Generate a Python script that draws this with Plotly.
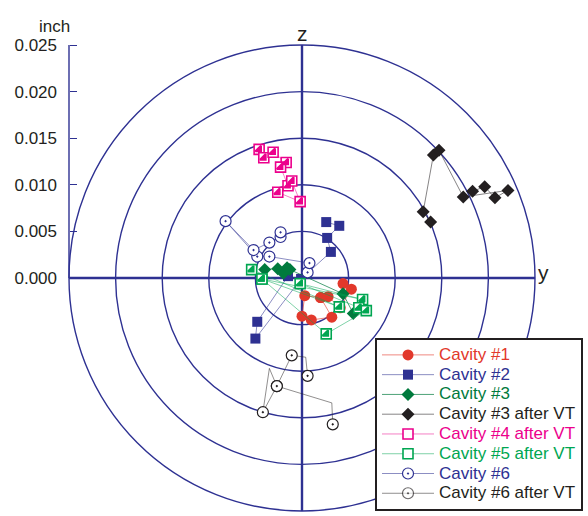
import plotly.graph_objects as go

# ---- data (inch) ----
c1_y = [0.0044, 0.0053, 0.0041, 0.0028, 0.0020, 0.0003, 0.0000, 0.0010, 0.0032, 0.0020]
c1_z = [-0.0006, -0.0012, -0.0032, -0.0020, -0.0021, -0.0019, -0.0041, -0.0045, -0.0042, -0.0021]

c2_y = [0.0026, 0.0040, 0.0027, 0.0031, -0.0001, -0.0050, -0.0048, -0.0015]
c2_z = [0.0060, 0.0056, 0.0043, 0.0028, -0.0001, -0.0065, -0.0047, 0.0002]

c3_y = [-0.0040, -0.0026, -0.0016, -0.0020, -0.0013, 0.0044, 0.0055]
c3_z = [0.0009, 0.0010, 0.0011, 0.0005, 0.0009, -0.0017, -0.0038]

c3vt_y = [0.0138, 0.0130, 0.0141, 0.0147, 0.0173, 0.0221, 0.0207, 0.0196, 0.0183]
c3vt_z = [0.0060, 0.0071, 0.0132, 0.0137, 0.0087, 0.0094, 0.0086, 0.0098, 0.0093]

c4vt_y = [-0.0046, -0.0041, -0.0031, -0.0017, -0.0023, -0.0015, -0.0011, -0.0002, -0.0026]
c4vt_z = [0.0138, 0.0129, 0.0135, 0.0124, 0.0119, 0.0099, 0.0104, 0.0082, 0.0092]

c5vt_y = [-0.0054, 0.0040, -0.0043, 0.0065, -0.0002, 0.0061, 0.0069, 0.0026, -0.0043]
c5vt_z = [0.0009, -0.0031, -0.0001, -0.0023, -0.0006, -0.0032, -0.0035, -0.0060, -0.0001]

c6_y = [0.0006, 0.0008, -0.0035, -0.0048, -0.0082, -0.0052, -0.0035, -0.0023, -0.0023]
c6_z = [0.0006, 0.0016, 0.0023, 0.0023, 0.0061, 0.0030, 0.0038, 0.0044, 0.0049]

c6vt_y = [0.0006, 0.0004, -0.0011, -0.0027, -0.0042, -0.0035, -0.0027, 0.0032, 0.0033]
c6vt_z = [-0.0105, -0.0085, -0.0083, -0.0116, -0.0144, -0.0097, -0.0116, -0.0134, -0.0157]
c6vt_marked = [1, 0, 1, 1, 1, 0, 1, 0, 1]

ring_radii = [0.005, 0.010, 0.015, 0.020, 0.025]
tick_vals = [0.000, 0.005, 0.010, 0.015, 0.020, 0.025]

# ---- styles ----
RED = "#e2382b"
NAVY = "#2e3192"
DKGREEN = "#007a3d"
BLACK = "#231f20"
MAGENTA = "#ec008c"
GREEN = "#00a651"
FONT = "Liberation Sans, Arial, sans-serif"


def rgba(hexc, a):
    h = hexc.lstrip("#")
    r, g, b = int(h[0:2], 16), int(h[2:4], 16), int(h[4:6], 16)
    return f"rgba({r},{g},{b},{a})"


def lbl(text, color):
    return f'<span style="color:{color};font-size:17px">{text}</span>'


SQ = 10                # half-filled square size
TRI = SQ / 1.6         # right-angle triangle whose corner sits on the square's corner

fig = go.Figure()

fig.add_trace(go.Scatter(
    x=c1_y, y=c1_z, mode="lines+markers", name=lbl("Cavity #1", RED),
    line=dict(color=rgba(RED, 0.6), width=1),
    marker=dict(symbol="circle", size=11, color=RED)))

fig.add_trace(go.Scatter(
    x=c2_y, y=c2_z, mode="lines+markers", name=lbl("Cavity #2", NAVY),
    line=dict(color=rgba(NAVY, 0.55), width=1),
    marker=dict(symbol="square", size=10, color=NAVY)))

fig.add_trace(go.Scatter(
    x=c3_y, y=c3_z, mode="lines+markers", name=lbl("Cavity #3", DKGREEN),
    line=dict(color=rgba(DKGREEN, 0.7), width=1),
    marker=dict(symbol="diamond", size=10, color=DKGREEN)))

fig.add_trace(go.Scatter(
    x=c3vt_y, y=c3vt_z, mode="lines+markers", name=lbl("Cavity #3 after VT", BLACK),
    line=dict(color=rgba(BLACK, 0.55), width=1),
    marker=dict(symbol="diamond", size=10, color=BLACK)))

# Cavity #4 after VT: half-filled squares (white square + filled lower-right triangle)
fig.add_trace(go.Scatter(
    x=c4vt_y, y=c4vt_z, mode="lines+markers", name=lbl("Cavity #4 after VT", MAGENTA),
    line=dict(color=rgba(MAGENTA, 0.5), width=1),
    marker=dict(symbol="square", size=SQ, color="white", line=dict(width=1.6, color=MAGENTA))))
fig.add_trace(go.Scatter(
    x=c4vt_y, y=c4vt_z, mode="markers", showlegend=False, hoverinfo="skip",
    marker=dict(symbol="triangle-se", size=TRI, color=MAGENTA, line=dict(width=2, color=MAGENTA))))

# Cavity #5 after VT
fig.add_trace(go.Scatter(
    x=c5vt_y, y=c5vt_z, mode="lines+markers", name=lbl("Cavity #5 after VT", GREEN),
    line=dict(color=rgba(GREEN, 0.5), width=1),
    marker=dict(symbol="square", size=SQ, color="white", line=dict(width=1.6, color=GREEN))))
fig.add_trace(go.Scatter(
    x=c5vt_y, y=c5vt_z, mode="markers", showlegend=False, hoverinfo="skip",
    marker=dict(symbol="triangle-se", size=TRI, color=GREEN, line=dict(width=2, color=GREEN))))

fig.add_trace(go.Scatter(
    x=c6_y, y=c6_z, mode="lines+markers", name=lbl("Cavity #6", NAVY),
    line=dict(color=rgba(NAVY, 0.55), width=1),
    marker=dict(symbol="circle-dot", size=11, color="white", line=dict(width=1.2, color=NAVY))))

fig.add_trace(go.Scatter(
    x=c6vt_y, y=c6vt_z, mode="lines+markers", name=lbl("Cavity #6 after VT", BLACK),
    line=dict(color=rgba(BLACK, 0.5), width=1),
    marker=dict(symbol="circle-dot", size=11, color="white",
                opacity=[1.0 if m else 0.0 for m in c6vt_marked],
                line=dict(width=1.2, color=BLACK))))

# rings and axes
R = ring_radii[-1]
shapes = []
for r in ring_radii:
    shapes.append(dict(type="circle", xref="x", yref="y", x0=-r, x1=r, y0=-r, y1=r,
                       line=dict(color=NAVY, width=1.4), layer="below"))
shapes.append(dict(type="line", xref="x", yref="y", x0=-R, x1=R, y0=0, y1=0,
                   line=dict(color=NAVY, width=2.4), layer="below"))
shapes.append(dict(type="line", xref="x", yref="y", x0=0, x1=0, y0=-R, y1=R,
                   line=dict(color=NAVY, width=2.4), layer="below"))
shapes.append(dict(type="line", xref="x", yref="y", x0=-R, x1=-R, y0=0, y1=R,
                   line=dict(color=NAVY, width=1.4), layer="below"))

W, H = 588, 516
K = 0.025 / 233.0  # inch per pixel
CX, CY = 302, 278  # pixel position of the origin

fig.update_layout(
    width=W, height=H, autosize=False,
    margin=dict(l=0, r=0, t=0, b=0, pad=0),
    paper_bgcolor="white", plot_bgcolor="white",
    shapes=shapes,
    showlegend=True,
    xaxis=dict(range=[-CX * K, (W - CX) * K], visible=False, fixedrange=True),
    yaxis=dict(range=[-(H - CY) * K, CY * K], anchor="free", position=(CX - 233) / W,
               showgrid=False, zeroline=False, showline=False,
               tickvals=tick_vals, tickformat=".3f",
               ticks="inside", ticklen=7, tickwidth=1.4, tickcolor=NAVY,
               ticklabelstandoff=12,
               tickfont=dict(family=FONT, size=17, color=BLACK), automargin=False),
    legend=dict(x=375 / W, y=1 - 511 / H, xanchor="left", yanchor="bottom",
                bgcolor="white", bordercolor=BLACK, borderwidth=2,
                font=dict(family=FONT, size=12.9, color=BLACK),
                itemwidth=52, tracegroupgap=0),
    annotations=[
        dict(text="inch", xref="paper", yref="paper", x=37 / W, y=1 - 15 / H,
             showarrow=False, font=dict(family=FONT, size=17, color=BLACK)),
        dict(text="z", xref="paper", yref="paper", x=CX / W, y=1 - 20 / H,
             showarrow=False, font=dict(family=FONT, size=21, color=BLACK)),
        dict(text="y", xref="paper", yref="paper", x=551 / W, y=1 - 272 / H,
             showarrow=False, font=dict(family=FONT, size=21, color=BLACK)),
    ],
)

fig.write_html("out.html", config={"displayModeBar": False},
               post_script="document.body.style.margin='0';")
